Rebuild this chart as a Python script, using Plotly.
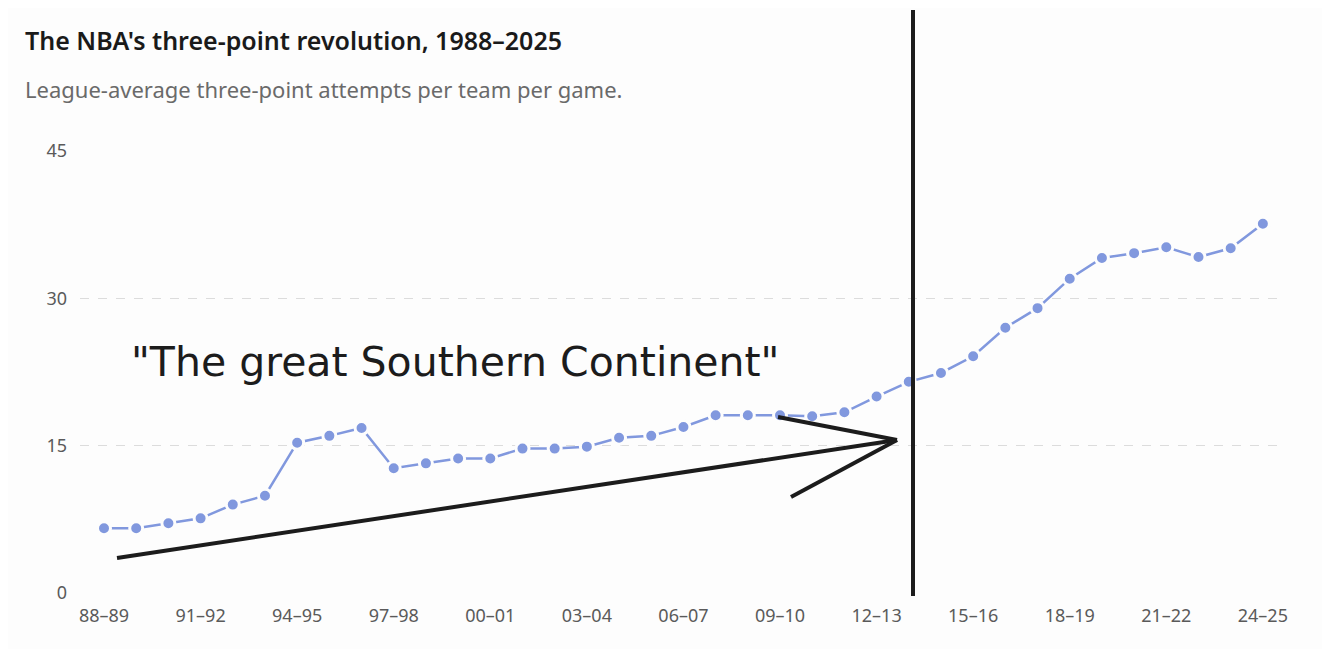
import plotly.graph_objects as go

seasons = ["88–89", "89–90", "90–91", "91–92", "92–93", "93–94", "94–95", "95–96",
           "96–97", "97–98", "98–99", "99–00", "00–01", "01–02", "02–03", "03–04",
           "04–05", "05–06", "06–07", "07–08", "08–09", "09–10", "10–11", "11–12",
           "12–13", "13–14", "14–15", "15–16", "16–17", "17–18", "18–19", "19–20",
           "20–21", "21–22", "22–23", "23–24", "24–25"]
attempts = [6.6, 6.6, 7.1, 7.6, 9.0, 9.9, 15.3, 16.0, 16.8, 12.7, 13.2, 13.7, 13.7,
            14.7, 14.7, 14.9, 15.8, 16.0, 16.9, 18.1, 18.1, 18.1, 18.0, 18.4, 20.0,
            21.5, 22.4, 24.1, 27.0, 29.0, 32.0, 34.1, 34.6, 35.2, 34.2, 35.1, 37.6]
tick_labels = ["88–89", "91–92", "94–95", "97–98", "00–01", "03–04", "06–07",
               "09–10", "12–13", "15–16", "18–19", "21–22", "24–25"]
y_ticks = [0, 15, 30, 45]

title_text = "The NBA's three-point revolution, 1988–2025"
subtitle_text = "League-average three-point attempts per team per game."
note_text = "\"The great Southern Continent\""

# the page body adds an 8px margin, so the figure is drawn 8px in
OFF = 8
W, H = 1330 - OFF, 649 - OFF
L, R, T, B = 80 - OFF, 52, 151 - OFF, 56
BG = "#fdfdfd"
FONT = "Noto Sans, Open Sans, sans-serif"

def px(x):
    return (x - OFF - L) / (W - L - R)

def py(y):
    return (H - B - (y - OFF)) / (H - T - B)

fig = go.Figure()
fig.add_trace(go.Scatter(
    x=seasons, y=attempts, mode="lines+markers",
    line=dict(color="#8198de", width=2.5),
    marker=dict(size=13, color="#8198de", line=dict(color=BG, width=3)),
    cliponaxis=False, hoverinfo="x+y", showlegend=False,
))

ink = dict(color="#1c1c1c", width=4)
shapes = [
    dict(type="line", xref="paper", yref="paper", x0=px(913), x1=px(913),
         y0=py(10), y1=py(596), line=ink),
    dict(type="line", xref="paper", yref="paper", x0=px(117), y0=py(558),
         x1=px(897), y1=py(440), line=ink),
    dict(type="line", xref="paper", yref="paper", x0=px(778), y0=py(417),
         x1=px(897), y1=py(440), line=ink),
    dict(type="line", xref="paper", yref="paper", x0=px(791), y0=py(497),
         x1=px(897), y1=py(440), line=ink),
]

annotations = [
    dict(text=title_text, xref="paper", yref="paper", x=px(23), y=py(40),
         xanchor="left", yanchor="middle", showarrow=False,
         font=dict(family=FONT, size=25, color="#1a1a1a", weight=600)),
    dict(text=subtitle_text, xref="paper", yref="paper", x=px(23), y=py(89),
         xanchor="left", yanchor="middle", showarrow=False,
         font=dict(family=FONT, size=22, color="#6a6a6a")),
    dict(text=note_text, xref="paper", yref="paper", x=px(455), y=py(362),
         xanchor="center", yanchor="middle", showarrow=False,
         font=dict(family="DejaVu Sans, sans-serif", size=41, color="#1c1c1c")),
]

fig.update_layout(
    width=W, height=H,
    margin=dict(l=L, r=R, t=T, b=B, pad=0),
    paper_bgcolor=BG, plot_bgcolor=BG,
    shapes=shapes, annotations=annotations,
    xaxis=dict(type="category", range=[-0.746, 36.47], tickmode="array",
               tickvals=tick_labels, ticktext=tick_labels, showgrid=False,
               zeroline=False, showline=False, ticks="", ticklabelstandoff=10,
               tickfont=dict(family=FONT, size=18, color="#5a5a5a")),
    yaxis=dict(range=[0, 45], tickvals=y_ticks, showgrid=True, gridcolor="#dcdcdc",
               griddash="dash", gridwidth=1, zeroline=False, showline=False, ticks="",
               ticklabelstandoff=12,
               tickfont=dict(family=FONT, size=18, color="#5a5a5a")),
    font=dict(family=FONT),
)

fig.write_html("out.html")
